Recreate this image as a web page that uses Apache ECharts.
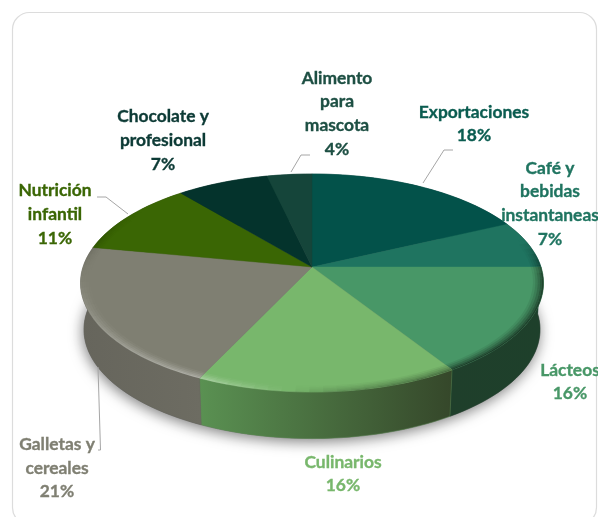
<!DOCTYPE html>
<html><head><meta charset="utf-8">
<style>html,body{margin:0;padding:0;background:#fff}#c{width:598px;height:517px}</style>
<script src="https://cdn.jsdelivr.net/npm/echarts@6/dist/echarts.min.js"></script>
</head><body><div id="c"></div>
<script>
const categories = ['Exportaciones','Café y\nbebidas\ninstantaneas','Lácteos','Culinarios','Galletas y\ncereales','Nutrición\ninfantil','Chocolate y\nprofesional','Alimento\npara\nmascota'];
const values = [18, 7, 16, 16, 21, 11, 7.4, 3.6];
const sliceColors = ['#03524a','#1f7460','#489767','#78b76c','#7f7f72','#3a6604','#04332c','#15453a'];
const labelColors = ['#0a5c50','#1f7460','#489767','#78b76c','#7f7f72','#3a6604','#0c3a35','#1d4f43'];
const wallColors = [['#03423b','#03423b'],['#14493c','#14493c'],['#1f3f2b','#1e402b'],['#5a9152','#35472a'],['#66655c','#6d6c62'],['#2c4d04','#2c4d04'],['#04332c','#04332c'],['#15453a','#15453a']];
const labelCentres = [[474,124],[550,203.5],[570,382],[343,474],[57,468],[55,214.5],[163,140.5],[337,113.5]];
const leaderLines = [[[423,183],[444,150],[453,150]],[[98,367],[100.5,450],[98,450]],[[128,214],[106,197],[97,197]],[[291,172],[301,155],[310,155]]];

// perspective view of the pie's circle
const AX = 312, AY = 267, K = -0.1468, A = 229, B = 67.5, DEPTH = 46.5;
const total = values.reduce((a, b) => a + b, 0);
const starts = []; values.reduce((s, v, i) => (starts[i] = s, s + v), 0);
const deg = p => p / total * 360;
function pt(th, s, dy, w) {
  const r = th * Math.PI / 180, u = s * Math.sin(r), v = -s * Math.cos(r), d = 1 + K * v;
  return [AX + (w || 1) * A * u / d, (B * v + AY) / d + (dy || 0)];
}
function arc(a, b, s, dy, w) {
  const n = Math.max(2, Math.ceil((b - a) / 2)), o = [];
  for (let i = 0; i <= n; i++) o.push(pt(a + (b - a) * i / n, s, dy, w));
  return o;
}
function light(th) { // + lighter, - darker at the bevel edge
  const st = [[75,0],[95,-.55],[147.5,-.6],[147.6,-.42],[175,-.18],[190,.1],[205,.38],[235,.22],[262,.03],[285,-.15],[305,0]];
  if (th <= st[0][0] || th >= st[st.length-1][0]) return 0;
  for (let i = 1; i < st.length; i++) if (th <= st[i][0]) {
    const f = (th - st[i-1][0]) / (st[i][0] - st[i-1][0]);
    return st[i-1][1] + (st[i][1] - st[i-1][1]) * f;
  }
  return 0;
}
const poly = (points, fill, extra) => ({type:'polygon', shape:{points}, style:Object.assign({fill, stroke:fill, lineWidth:.4}, extra||{})});

function renderShadow() {
  return poly(arc(0, 360, 1, DEPTH, .985), '#666', {shadowBlur:14, shadowColor:'rgba(0,0,0,.5)', shadowOffsetY:3, shadowOffsetX:-1});
}
function renderWall(p, api) {
  const i = p.dataIndex, a = deg(starts[i]), b = a + deg(api.value(0));
  const pts = arc(a, b, 1, 0).concat(arc(a, b, 1, DEPTH, .985).reverse());
  const c = wallColors[i];
  return poly(pts, new echarts.graphic.LinearGradient(1,0,0,0,[{offset:0,color:c[1]},{offset:1,color:c[0]}]), {stroke:c[0]});
}
function renderTop(p, api) {
  const i = p.dataIndex, a = deg(starts[i]), b = a + deg(api.value(0));
  const children = [poly([[AX,AY]].concat(arc(a, b, 1, 0)), sliceColors[i])];
  const steps = [.955,.965,.975,.985,.993,1];
  for (let th = a; th < b - .001; th += 3) {
    const e = Math.min(b, th + 3), mid = (th + e) / 2, L = light(mid);
    if (!L) continue;
    for (let k = 0; k < steps.length - 1; k++) {
      const f = Math.abs(L) * Math.pow((k + 1) / (steps.length - 1), 1.3);
      const col = L > 0 ? 'rgba(255,255,255,'+f.toFixed(3)+')' : 'rgba(0,0,0,'+f.toFixed(3)+')';
      children.push({type:'polygon', shape:{points:arc(th, e, steps[k], 0).concat(arc(th, e, steps[k+1], 0).reverse())}, style:{fill:col}});
    }
  }
  return {type:'group', children};
}
function renderLabel(p, api) {
  const i = p.dataIndex, c = labelCentres[i];
  return {type:'text', x:c[0], y:c[1], style:{
    text: categories[i] + '\n' + Math.round(api.value(0) / total * 100) + '%',
    fill: labelColors[i], stroke: labelColors[i], lineWidth:.35, font:'bold 17.4px Lato, sans-serif', lineHeight:23.7, align:'center', verticalAlign:'middle', textAlign:'center', textVerticalAlign:'middle'
  }};
}
function renderLeader(p) {
  return {type:'polyline', shape:{points:leaderLines[p.dataIndex]}, style:{fill:'none', stroke:'#a6a6a6', lineWidth:1}};
}
const layer = (renderItem, z, data) => ({type:'custom', coordinateSystem:'none', renderItem, z, data: data || values, silent:true, clip:false, animation:false});

const chart = echarts.init(document.getElementById('c'), null, {renderer:'canvas'});
chart.setOption({
  animation:false, backgroundColor:'#fff',
  graphic:[{type:'rect', z:0, shape:{x:12.5,y:12.5,width:584,height:512,r:17}, style:{fill:'#fff', stroke:'#dcdcdc', lineWidth:1.2}}],
  series:[
    layer(renderShadow, 1, [1]),
    layer(renderWall, 2),
    layer(renderTop, 3),
    layer(renderLeader, 4, leaderLines.map((l,i)=>i)),
    layer(renderLabel, 5)
  ]
});
</script></body></html>
